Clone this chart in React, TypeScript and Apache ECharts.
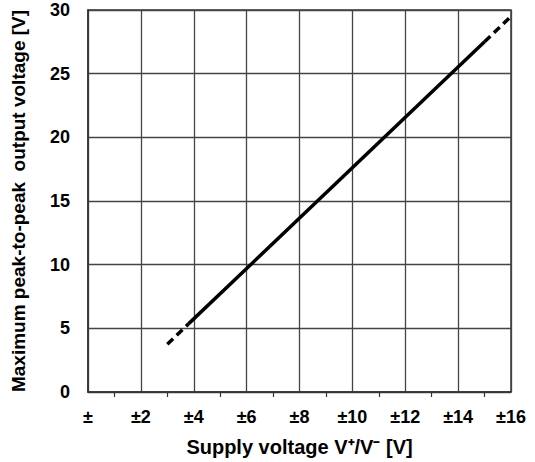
import React, { useEffect, useRef } from "react";
import * as echarts from "echarts";

const xTicks = [0, 2, 4, 6, 8, 10, 12, 14, 16];
const yTicks = [0, 5, 10, 15, 20, 25, 30];
const lowDashed: [number, number][] = [
  [3.0, 3.75],
  [3.8, 5.35],
];
const solidLine: [number, number][] = [
  [3.8, 5.35],
  [15.0, 27.5],
];
const highDashed: [number, number][] = [
  [15.0, 27.5],
  [16.0, 29.5],
];

const FONT = "'Liberation Sans', Arial, sans-serif";

export default function App() {
  const ref = useRef<HTMLDivElement>(null);
  useEffect(() => {
    if (!ref.current) return;
    const chart = echarts.init(ref.current, undefined, { renderer: "svg" });
    const lineBase = { type: "line", showSymbol: false, symbol: "none", silent: true };
    chart.setOption({
      animation: false,
      backgroundColor: "#ffffff",
      grid: {
        left: 88,
        right: 24,
        top: 10,
        bottom: 68,
        show: true,
        borderColor: "#333333",
        borderWidth: 1.5,
        backgroundColor: "transparent",
      },
      xAxis: {
        type: "value",
        min: xTicks[0],
        max: xTicks[xTicks.length - 1],
        interval: 2,
        name: "Supply voltage V⁺/V⁻ [V]",
        nameLocation: "middle",
        nameGap: 45,
        nameTextStyle: { fontFamily: FONT, fontWeight: "bold", fontSize: 20, color: "#000" },
        axisLine: { show: true, lineStyle: { color: "#333", width: 1.5 } },
        axisTick: { show: false },
        minorTick: { show: true, splitNumber: 2, length: 5, lineStyle: { color: "#333", width: 1.2 } },
        axisLabel: {
          margin: 16,
          fontFamily: FONT,
          fontWeight: "bold",
          fontSize: 18,
          color: "#000",
          formatter: (v: number) => (v === 0 ? "±" : "±" + v),
        },
        splitLine: { show: true, lineStyle: { color: "#444", width: 1.3 } },
      },
      yAxis: {
        type: "value",
        min: yTicks[0],
        max: yTicks[yTicks.length - 1],
        interval: 5,
        name: "Maximum peak-to-peak  output voltage [V]",
        nameLocation: "middle",
        nameGap: 60,
        nameTextStyle: { fontFamily: FONT, fontWeight: "bold", fontSize: 19, color: "#000" },
        axisLine: { show: true, lineStyle: { color: "#333", width: 1.5 } },
        axisTick: { show: false },
        axisLabel: {
          margin: 18,
          fontFamily: FONT,
          fontWeight: "bold",
          fontSize: 18,
          color: "#000",
        },
        splitLine: { show: true, lineStyle: { color: "#444", width: 1.3 } },
      },
      series: [
        {
          ...lineBase,
          data: lowDashed,
          lineStyle: { color: "#000", width: 3.5, type: [8, 5] },
        },
        {
          ...lineBase,
          data: solidLine,
          lineStyle: { color: "#000", width: 3.5, type: "solid" },
        },
        {
          ...lineBase,
          data: highDashed,
          lineStyle: { color: "#000", width: 3.5, type: [8, 5] },
        },
      ],
    });
    return () => chart.dispose();
  }, []);
  return <div ref={ref} style={{ width: 535, height: 462, position: "absolute", left: 0, top: 0 }} />;
}
